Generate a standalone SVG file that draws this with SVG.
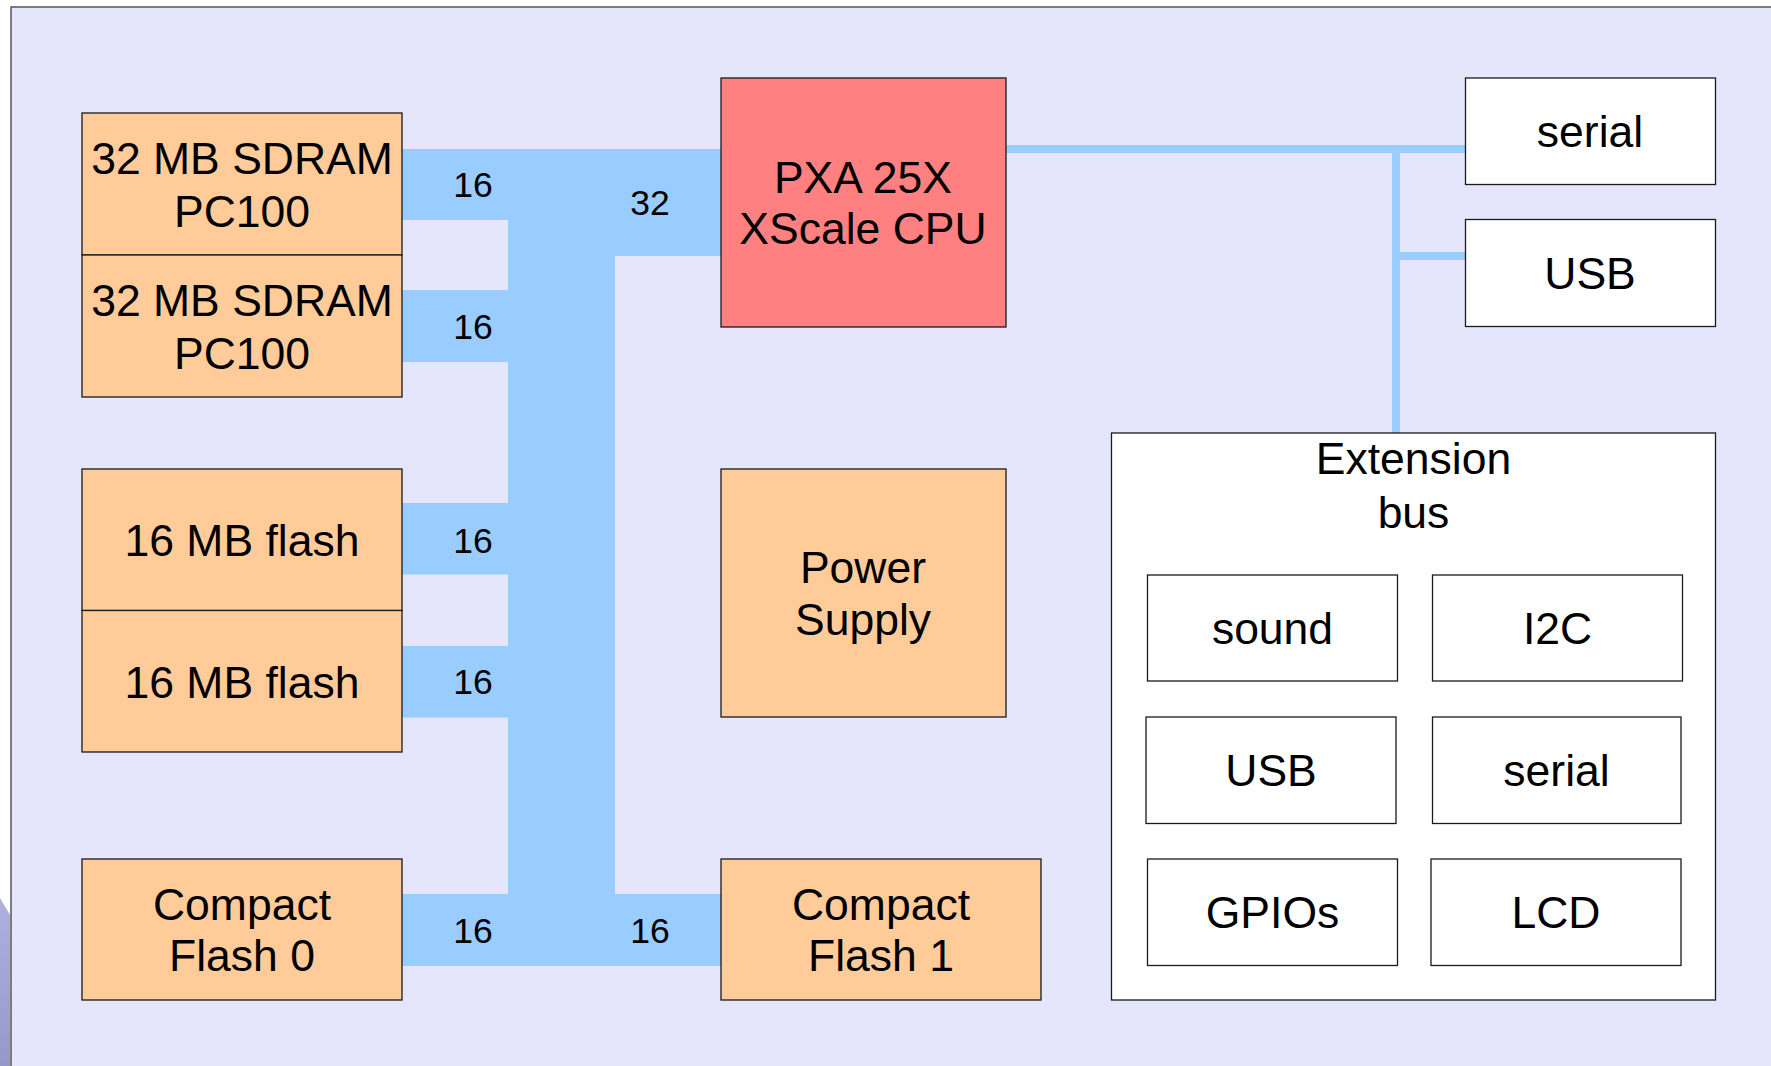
<svg xmlns="http://www.w3.org/2000/svg" width="1771" height="1066" viewBox="0 0 1771 1066">
<defs>
<style>
text{font-family:"Liberation Sans",Arial,sans-serif;fill:#000;text-anchor:middle}
.big{font-size:44.5px}
.lbl{font-size:35.5px}
.box{stroke:#1a1a1a;stroke-width:1.3}
.orange{fill:#ffcc99}
.cpu{fill:#ff8080}
.white{fill:#ffffff}
.bus{fill:#99ccff;stroke:none}
</style>
<linearGradient id="blob" x1="0" y1="0" x2="0" y2="1">
<stop offset="0" stop-color="#b0b0e0"/>
<stop offset="1" stop-color="#9898c8"/>
</linearGradient>
</defs>
<rect x="0" y="0" width="1771" height="1066" fill="#ffffff"/>
<polygon points="0,898 10,915 10,1066 0,1066" fill="url(#blob)"/>
<rect id="background" x="11" y="7" width="1770" height="1070" fill="#e5e5fb" stroke="#555" stroke-width="1.5"/>

<g id="connectors">
<path class="bus" d="M402,149 H721 V256 H615 V894 H721 V966 H402 V894 H508 V717.5 H402 V646 H508 V574.5 H402 V503 H508 V362 H402 V290 H508 V220 H402 Z"/>
<rect class="bus" x="1005" y="145" width="461" height="8"/>
<rect class="bus" x="1392" y="145" width="8" height="288"/>
<rect class="bus" x="1400" y="252" width="66" height="8"/>
<text class="lbl" x="473" y="197">16</text>
<text class="lbl" x="473" y="339">16</text>
<text class="lbl" x="473" y="553">16</text>
<text class="lbl" x="473" y="694">16</text>
<text class="lbl" x="473" y="943">16</text>
<text class="lbl" x="650" y="215">32</text>
<text class="lbl" x="650" y="943">16</text>
</g>

<g id="sdram1"><rect class="box orange" x="82" y="113" width="320" height="142"/><text class="big" x="242" y="174">32 MB SDRAM</text><text class="big" x="242" y="227">PC100</text></g>
<g id="sdram2"><rect class="box orange" x="82" y="255" width="320" height="142"/><text class="big" x="242" y="316">32 MB SDRAM</text><text class="big" x="242" y="369">PC100</text></g>
<g id="flash1"><rect class="box orange" x="82" y="469" width="320" height="141.5"/><text class="big" x="242" y="556">16 MB flash</text></g>
<g id="flash2"><rect class="box orange" x="82" y="610.5" width="320" height="141.5"/><text class="big" x="242" y="698">16 MB flash</text></g>
<g id="cf0"><rect class="box orange" x="82" y="859" width="320" height="141"/><text class="big" x="242" y="920">Compact</text><text class="big" x="242" y="971">Flash 0</text></g>
<g id="cpu"><rect class="box cpu" x="721" y="78" width="285" height="249"/><text class="big" x="863" y="193">PXA 25X</text><text class="big" x="863" y="244">XScale CPU</text></g>
<g id="power"><rect class="box orange" x="721" y="469" width="285" height="248"/><text class="big" x="863" y="583">Power</text><text class="big" x="863" y="635">Supply</text></g>
<g id="cf1"><rect class="box orange" x="721" y="859" width="320" height="141"/><text class="big" x="881" y="920">Compact</text><text class="big" x="881" y="971">Flash 1</text></g>
<g id="serial"><rect class="box white" x="1465.5" y="78" width="250" height="106.5"/><text class="big" x="1590" y="147">serial</text></g>
<g id="usb"><rect class="box white" x="1465.5" y="219.5" width="250" height="107"/><text class="big" x="1590" y="289">USB</text></g>
<g id="extension"><rect class="box white" x="1111.5" y="433" width="604" height="567"/><text class="big" x="1413.5" y="474">Extension</text><text class="big" x="1413.5" y="528">bus</text></g>
<g id="ext-sound"><rect class="box white" x="1147.5" y="575" width="250" height="106"/><text class="big" x="1272.5" y="644">sound</text></g>
<g id="ext-i2c"><rect class="box white" x="1432.5" y="575" width="250" height="106"/><text class="big" x="1557.5" y="644">I2C</text></g>
<g id="ext-usb"><rect class="box white" x="1146" y="717" width="250" height="106.5"/><text class="big" x="1271" y="786">USB</text></g>
<g id="ext-serial"><rect class="box white" x="1432.5" y="717" width="248.5" height="106.5"/><text class="big" x="1556.5" y="786">serial</text></g>
<g id="ext-gpios"><rect class="box white" x="1147.5" y="859" width="250" height="106.5"/><text class="big" x="1272.5" y="928">GPIOs</text></g>
<g id="ext-lcd"><rect class="box white" x="1431" y="859" width="250" height="106.5"/><text class="big" x="1556" y="928">LCD</text></g>
</svg>
